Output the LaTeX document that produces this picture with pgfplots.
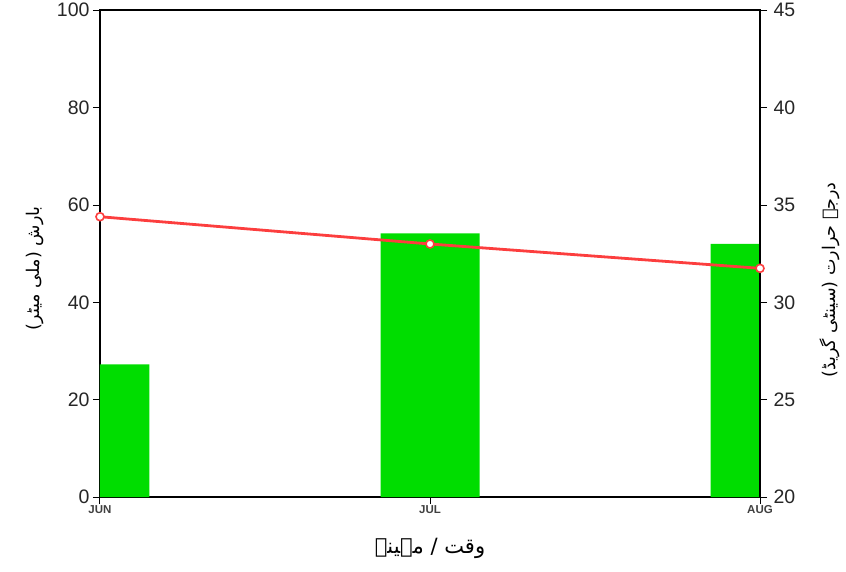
\documentclass[border=0pt]{standalone}
\usepackage{fontspec}
\setmainfont{Liberation Sans}
\newfontfamily\arabicfont[Script=Arabic]{DejaVu Sans}
\TeXXeTstate=1
\usepackage{pgfplots}
\pgfplotsset{compat=1.18}
\definecolor{bargreen}{RGB}{0,221,0}
\definecolor{linered}{RGB}{252,62,62}
\begin{document}
\begin{tikzpicture}
\begin{axis}[
  scale only axis, width=660pt, height=487pt,
  xmin=0, xmax=2, ymin=0, ymax=100,
  ytick={0,20,...,100},
  xtick={0,1,2}, xticklabels={JUN,JUL,AUG},
  ytick pos=left, xtick pos=bottom, tick align=outside,
  major tick length=7pt,
  tick style={black, line width=1pt},
  axis line style={line width=1.6pt},
  /pgf/number format/assume math mode=true,
  xticklabel style={font=\bfseries\fontsize{11.5}{11.5}\selectfont, text=black!75, inner sep=1pt},
  yticklabel style={font=\fontsize{19.5}{19.5}\selectfont, text=black!85},
  ylabel={\arabicfont\fontsize{17.5}{19}\selectfont\beginR بارش (ملی میٹر)\endR},
  ylabel style={at={(axis description cs:-0.098,0.47)}, anchor=center},
  xlabel={\arabicfont\fontsize{21}{23}\selectfont\beginR وقت / مہینہ\endR},
  xlabel style={at={(axis description cs:0.5,-0.105)}, anchor=center},
]
\addplot[ybar, bar width=0.3, fill=bargreen, draw=none] coordinates {(0,27.3) (1,54.2) (2,52.0)};
\end{axis}
\begin{axis}[
  scale only axis, width=660pt, height=487pt,
  xmin=0, xmax=2, ymin=20, ymax=45,
  axis x line=none, axis y line*=right,
  ytick={20,25,...,45},
  tick align=outside, major tick length=7pt,
  tick style={black, line width=1pt},
  axis line style={line width=1.6pt},
  /pgf/number format/assume math mode=true,
  yticklabel style={font=\fontsize{19.5}{19.5}\selectfont, text=black!85, xshift=3pt},
  ylabel={\arabicfont\fontsize{17.5}{19}\selectfont\beginR درجہ حرارت (سینٹی گریڈ)\endR},
  ylabel style={at={(axis description cs:1.106,0.446)}, anchor=center},
]
\addplot[linered, line width=2.8pt, mark=*, mark size=4pt, mark options={fill=white, draw=linered, line width=1.6pt}] coordinates {(0,34.4) (1,33.0) (2,31.75)};
\draw[line width=1.5pt] ([xshift=3.5pt]rel axis cs:1,0) -- ([xshift=3.5pt]rel axis cs:1,1);
\end{axis}
\path ([xshift=-100pt,yshift=-74pt]current axis.south west) rectangle ([xshift=86pt,yshift=10pt]current axis.north east);
\end{tikzpicture}
\end{document}
